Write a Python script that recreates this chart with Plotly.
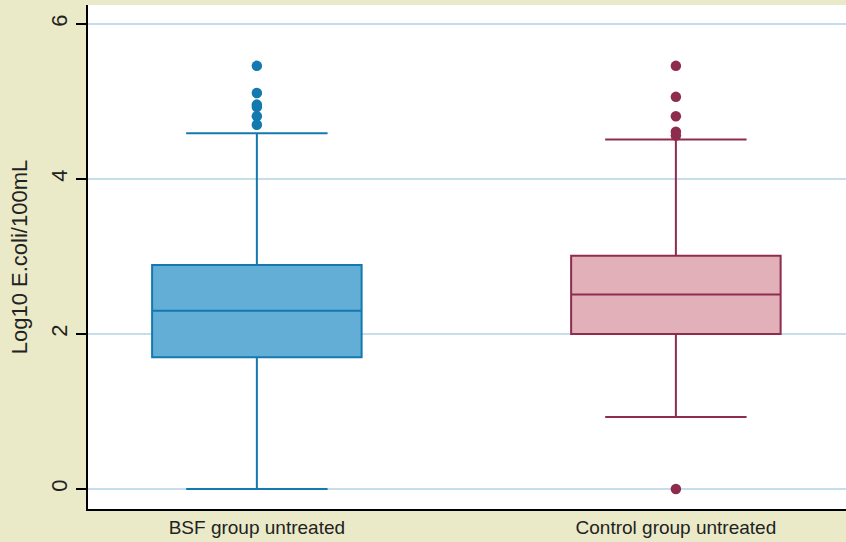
import plotly.graph_objects as go

groups = ["BSF group untreated", "Control group untreated"]
positions = [0, 1]
q1 = [1.70, 2.00]
median = [2.30, 2.51]
q3 = [2.89, 3.01]
lowerfence = [0.0, 0.93]
upperfence = [4.59, 4.51]
bsf_outliers = [5.46, 5.11, 4.96, 4.93, 4.81, 4.70]
ctrl_outliers = [5.46, 5.06, 4.81, 4.61, 4.56, 0.0]

fills = ["#63AED6", "#E1B0B8"]
lines = ["#1479AE", "#8F2C4E"]
outlier_sets = [bsf_outliers, ctrl_outliers]

fig = go.Figure()
for i in range(2):
    fig.add_trace(go.Box(
        x=[positions[i]], q1=[q1[i]], median=[median[i]], q3=[q3[i]],
        lowerfence=[lowerfence[i]], upperfence=[upperfence[i]],
        width=0.5, whiskerwidth=0.675, fillcolor=fills[i],
        line=dict(color=lines[i], width=2), boxpoints=False,
        name=groups[i], showlegend=False))
    fig.add_trace(go.Scatter(
        x=[positions[i]] * len(outlier_sets[i]), y=outlier_sets[i],
        mode="markers", marker=dict(color=lines[i], size=10.5),
        showlegend=False))

fig.update_layout(
    width=846, height=542,
    margin=dict(l=88, r=0, t=5, b=33),
    paper_bgcolor="#EAEAC8", plot_bgcolor="white",
    font=dict(family="Liberation Sans, Arial", color="#222222"),
    xaxis=dict(range=[-0.403, 1.406], tickvals=positions, ticktext=groups,
               showgrid=False, zeroline=False, showline=True,
               linecolor="black", linewidth=2, ticks="",
               tickfont=dict(size=19)),
    yaxis=dict(range=[-0.258, 6.245], tickvals=[0, 2, 4, 6],
               showgrid=True, gridcolor="#C6DDEC", gridwidth=1.5,
               zeroline=False, showline=True, linecolor="black", linewidth=2,
               ticks="outside", ticklen=10, tickcolor="black", tickwidth=2,
               tickangle=-90, tickfont=dict(size=22),
               title=dict(text="Log10 E.coli/100mL", font=dict(size=22),
                          standoff=14)),
)

fig.write_html("out.html", config={"displayModeBar": False},
               post_script="document.body.style.margin='0px';document.body.style.padding='0px';")
